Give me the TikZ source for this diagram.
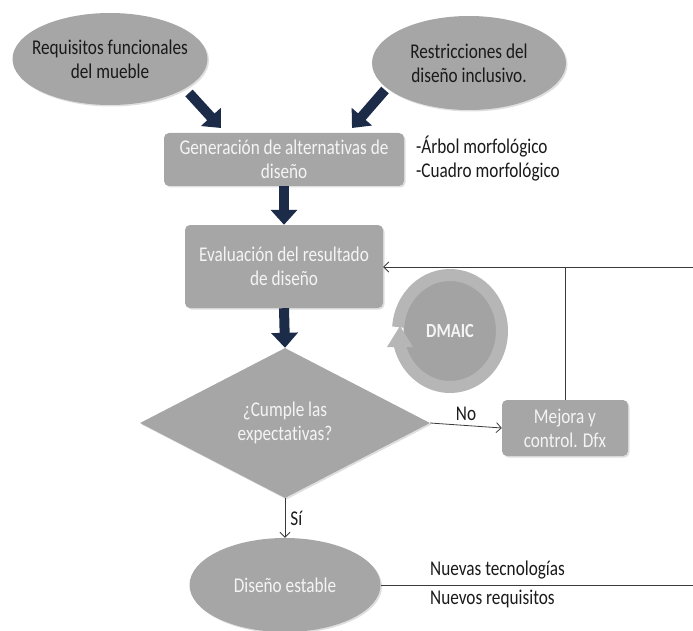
\documentclass[tikz,border=0pt]{standalone}
\usepackage{fontspec}
\setmainfont{Carlito}[FakeStretch=0.82, RawFeature=-liga]
\usetikzlibrary{shapes.geometric,arrows.meta,shadows}
\definecolor{shapegray}{HTML}{A6A6A6}
\definecolor{innergray}{HTML}{A3A3A3}
\definecolor{ringgray}{HTML}{B6B6B6}
\definecolor{navy}{HTML}{1B2B48}
\definecolor{lighttext}{HTML}{F4F4F4}
\definecolor{darktext}{HTML}{1A1A1A}
\definecolor{linegray}{HTML}{3A3A3A}
\begin{document}
\begin{tikzpicture}[x=1pt,y=-1pt,
  every node/.style={font=\fontsize{21}{24}\selectfont, align=center, inner sep=0pt},
  shp/.style={fill=shapegray, text=lighttext, drop shadow={opacity=0.25, shadow xshift=1.5pt, shadow yshift=-1.5pt}},
  ell/.style={shp, ellipse, inner sep=-30pt},
  box/.style={shp, rectangle, rounded corners=5pt},
  dia/.style={shp, diamond, inner sep=-10pt},
  bigarrow/.style={draw=navy, line width=10pt, -{Triangle[width=26pt,length=15pt]}},
  link/.style={draw=linegray, line width=0.8pt, -{Straight Barb[length=5pt,width=10pt]}},
  plainline/.style={draw=linegray, line width=0.8pt},
  note/.style={text=darktext}
]
\useasboundingbox (0,0) rectangle (693,631);

% shapes
\node[ell, text=darktext, minimum width=195pt, minimum height=92pt] (req) at (110,59) {Requisitos funcionales\\del mueble};
\node[ell, text=darktext, minimum width=194pt, minimum height=94pt] (res) at (469,63) {Restricciones del\\diseño inclusivo.};
\node[box, minimum width=240pt, minimum height=53pt] (gen) at (284,159.5) {Generación de alternativas de\\diseño};
\node[box, minimum width=198pt, minimum height=83pt] (eva) at (284,266.5) {Evaluación del resultado\\de diseño};
\node[dia, minimum width=290pt, minimum height=150pt] (cum) at (285,423) {¿Cumple las\\expectativas?};
\node[box, minimum width=126pt, minimum height=56pt] (mej) at (565,428) {Mejora y\\control. Dfx};
\node[ell, minimum width=191pt, minimum height=94pt] (dis) at (285,585) {Diseño estable};

% side notes
\node[note, anchor=west, align=left] (tools) at (416,159) {-Árbol morfológico\\-Cuadro morfológico};

% DMAIC cycle
\node[ellipse, fill=innergray, text=lighttext, inner sep=-20pt, minimum width=93pt, minimum height=102pt, font=\fontsize{20}{22}\selectfont\bfseries] (dmaic) at (450,331) {DMAIC};
\draw[ringgray, line width=12pt] ([shift={(-176:52 and 56)}]dmaic.center) arc[start angle=-176, end angle=165, x radius=52, y radius=56];
\fill[ringgray] (387,347) -- (413,347) -- (400,326) -- cycle;

% thick arrows
\coordinate (a1s) at (189,93);
\coordinate (a1e) at (221,128);
\coordinate (a2s) at (385,90);
\coordinate (a2e) at (352,128);
\draw[bigarrow] (a1s) -- (a1e);
\draw[bigarrow] (a2s) -- (a2e);
\draw[bigarrow] (gen.south) -- (eva.north);
\draw[bigarrow] (eva.south) -- (cum.north);

% thin connectors
\coordinate (fbR) at (693,267);
\coordinate (bR) at (693,584);
\draw[link] (fbR) -- (eva.east |- fbR);
\draw[plainline] (mej.north) -- (mej.north |- fbR);
\draw[link] (cum.east) -- node[note, above=4pt] (no) {No} (mej.west);
\draw[link] (cum.south) -- node[note, right=5pt] (si) {Sí} (dis.north);
\draw[plainline] (dis.east) -- (dis.east -| bR);
\node[note, anchor=south west] (nt) at (430,579) {Nuevas tecnologías};
\node[note, anchor=north west] (nr) at (430,590) {Nuevos requisitos};
\end{tikzpicture}
\end{document}
